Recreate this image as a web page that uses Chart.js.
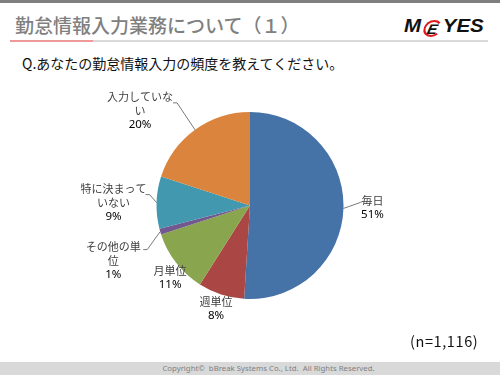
<!DOCTYPE html>
<html lang="ja">
<head>
<meta charset="utf-8">
<script src="https://cdn.jsdelivr.net/npm/chart.js@4"></script>
<style>
  body { margin: 0; width: 500px; height: 375px; overflow: hidden; background: #fff;
         font-family: "Noto Sans CJK JP", "Noto Sans", sans-serif; position: relative; }
  .abs { position: absolute; }
  .topbar { left: 0; top: 0; width: 500px; height: 3px; background: #7f7f7f; }
  .title { left: 15px; top: 13px; font-size: 19px; line-height: 24px; color: #808080; font-weight: 500; white-space: nowrap; }
  .rule-red { left: 10px; top: 40px; width: 83px; height: 2px; background: #ef9a9a; }
  .rule-gray { left: 93px; top: 40px; width: 395px; height: 2px; background: #d9d9d9; }
  .logo { left: 404px; top: 16px; font-family: "Liberation Sans", Arial, sans-serif; font-weight: bold; font-style: italic;
          font-size: 19px; line-height: 20px; color: #111; white-space: nowrap; transform-origin: left top; transform: scaleX(1.08); }
  .logo .ring { display: inline-block; width: 17px; height: 17px; margin: 0 1px 0 2px; text-align: center; font-size: 14px;
          line-height: 15px; border: 2px solid #e0191e; border-right-color: transparent; border-radius: 50%;
          box-sizing: border-box; vertical-align: -2px; transform: skewX(-12deg); }
  .question { left: 22px; top: 53px; font-size: 14px; line-height: 20px; color: #111; white-space: nowrap; }
  .n { left: 410px; top: 331px; font-size: 14.5px; line-height: 20px; color: #111; letter-spacing: 0.6px; }
  .footer { left: 0; top: 362px; width: 500px; height: 13px; background: #d9d9d9; }
  .copy { left: 0; top: 362px; width: 537px; text-align: center; font-size: 7.8px; line-height: 13px; color: #7f7f7f;
          font-family: "Noto Sans", sans-serif; white-space: nowrap; }
  #chart { position: absolute; left: 0; top: 0; }
</style>
</head>
<body>
<div class="abs topbar"></div>
<div class="abs title">勤怠情報入力業務について（１）</div>
<div class="abs rule-red"></div>
<div class="abs rule-gray"></div>
<div class="abs logo">M<span class="ring">E</span>YES</div>
<div class="abs question">Q.あなたの勤怠情報入力の頻度を教えてください。</div>
<canvas id="chart" width="500" height="375"></canvas>
<div class="abs n">(n=1,116)</div>
<div class="abs footer"></div>
<div class="abs copy">Copyright&copy;&nbsp; bBreak Systems Co., Ltd.&nbsp; All Rights Reserved.</div>

<script>
'use strict';

// categories (line breaks as in the slide)
const categories = [
    ['毎日'],
    ['週単位'],
    ['月単位'],
    ['その他の単', '位'],
    ['特に決まって', 'いない'],
    ['入力していな', 'い']
];
// share of answers, percent
const shares = [51, 8, 11, 1, 9, 20];
const sliceColors = ['#4572A7', '#AA4643', '#89A54E', '#71588F', '#4198AF', '#DB843D'];

// label block offset from the slice's outer mid point, and leader line (relative to label centre)
const labelPlacement = [
    { dx: 29, dy: -1, leader: [[-12, -5], [-10, -6]] },
    { dx: -5, dy: 14, leader: null },
    { dx: -6, dy: 15, leader: null },
    { dx: -47, dy: 29, leader: [[34, -11], [30, -11]] },
    { dx: -43, dy: 0, leader: [[36, -8], [32, -8]] },
    { dx: -55, dy: -19, leader: [[37, -8], [33, -8]] }
];

const pieLabels = {
    id: 'pieLabels',
    afterDatasetsDraw(chart) {
        const ctx = chart.ctx;
        const meta = chart.getDatasetMeta(0);
        const data = chart.data.datasets[0].data;
        const total = data.reduce((a, b) => a + b, 0);
        const lineH = 14;
        ctx.save();
        meta.data.forEach((arc, i) => {
            const p = arc.getProps(['x', 'y', 'startAngle', 'endAngle', 'outerRadius'], true);
            const mid = (p.startAngle + p.endAngle) / 2;
            const ex = p.x + Math.cos(mid) * p.outerRadius;
            const ey = p.y + Math.sin(mid) * p.outerRadius;
            const place = labelPlacement[i];
            const cx = ex + place.dx;
            const cy = ey + place.dy;

            if (place.leader) {
                ctx.strokeStyle = '#595959';
                ctx.lineWidth = 0.8;
                ctx.beginPath();
                ctx.moveTo(ex, ey);
                place.leader.forEach(pt => ctx.lineTo(cx + pt[0], cy + pt[1]));
                ctx.stroke();
            }

            const lines = chart.data.labels[i];
            const pct = Math.round(data[i] / total * 100) + '%';
            const n = lines.length + 1;
            let y = cy - (n - 1) * lineH / 2;
            ctx.textAlign = 'center';
            ctx.textBaseline = 'middle';
            ctx.font = '11px "Noto Sans CJK JP", "Noto Sans", sans-serif';
            ctx.fillStyle = '#404040';
            lines.forEach(t => { ctx.fillText(t, cx, y); y += lineH; });
            ctx.font = '11.5px "Noto Sans", "Noto Sans CJK JP", sans-serif';
            ctx.fillStyle = '#000';
            ctx.fillText(pct, cx, y);
        });
        ctx.restore();
    }
};

new Chart(document.getElementById('chart'), {
    type: 'pie',
    data: {
        labels: categories,
        datasets: [{
            data: shares,
            backgroundColor: sliceColors,
            borderWidth: 0
        }]
    },
    options: {
        responsive: false,
        animation: false,
        layout: { padding: { top: 112, bottom: 76, left: 150, right: 150 } },
        plugins: {
            legend: { display: false },
            tooltip: { enabled: false }
        }
    },
    plugins: [pieLabels]
});
</script>
</body>
</html>
